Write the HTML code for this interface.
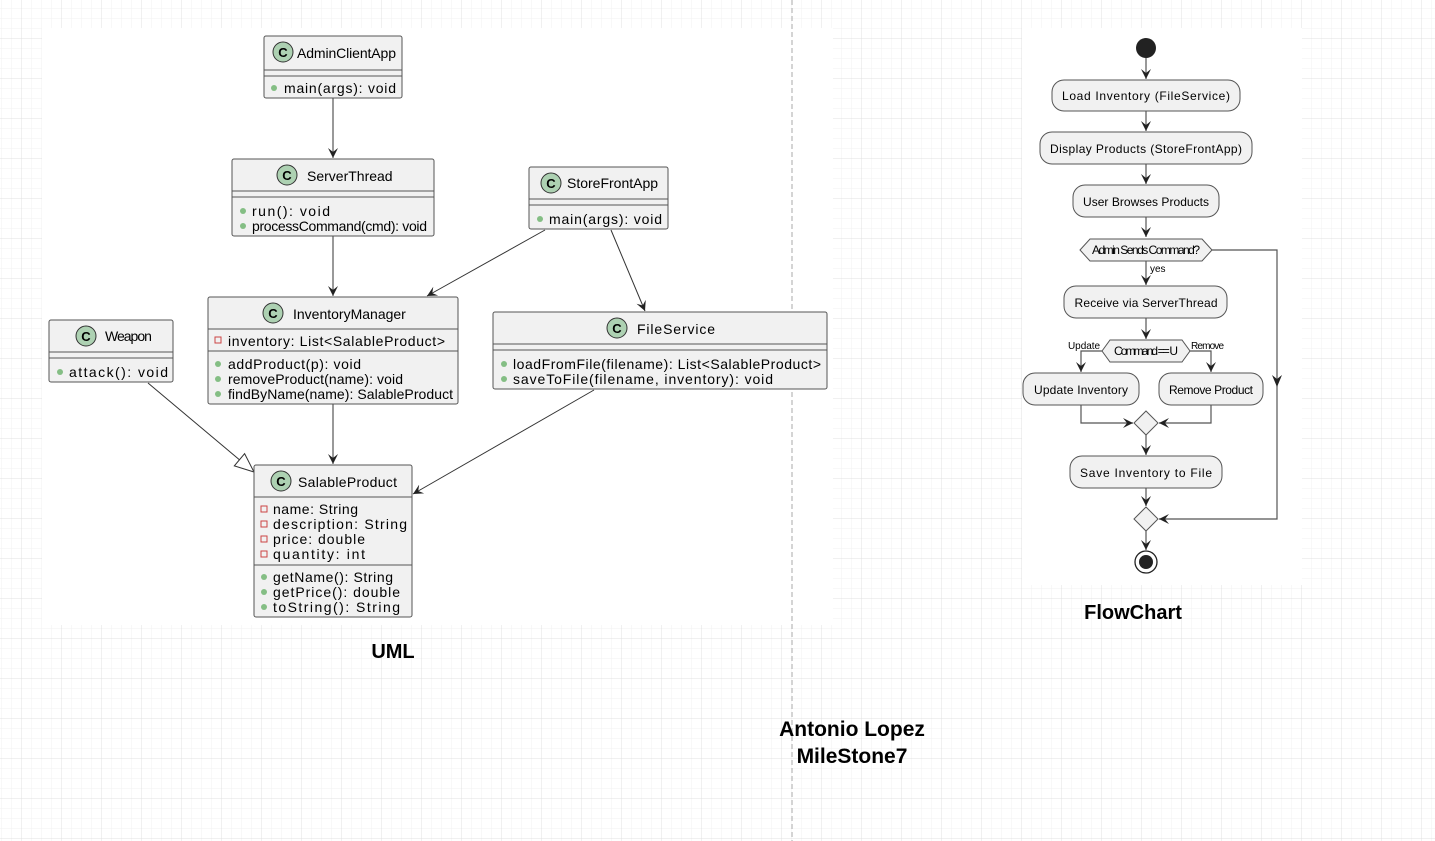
<!DOCTYPE html>
<html><head><meta charset="utf-8"><style>
html,body{margin:0;padding:0;background:#fff;}
svg{display:block;}
text{font-family:"Liberation Sans",Arial,sans-serif;fill:#000;}
.cb{fill:#f1f1f1;stroke:#555;stroke-width:1;}
.sep{stroke:#555;stroke-width:1;}
.cn{font-size:14px;}
.m{font-size:14px;}
.ln{stroke:#333;stroke-width:1;fill:none;}
.fl{stroke:#555;stroke-width:1.2;fill:none;}
.act{fill:#f1f1f1;stroke:#555;stroke-width:1;}
.ft{font-size:12px;text-anchor:middle;}
</style></head><body>
<svg width="1435" height="841" xmlns="http://www.w3.org/2000/svg">
<defs>
<pattern id="minor" width="10" height="10" patternUnits="userSpaceOnUse" x="2" y="-1">
<path d="M10 0V10M0 10H10" stroke="#f2f2f2" stroke-width="1" fill="none"/></pattern>
<pattern id="major" width="40" height="40" patternUnits="userSpaceOnUse" x="22" y="-1">
<path d="M40 0V40M0 40H40" stroke="#e0e0e0" stroke-width="1" fill="none"/></pattern>
<marker id="ar" markerWidth="12" markerHeight="12" refX="10" refY="6" orient="auto" markerUnits="userSpaceOnUse">
<path d="M0,1 L10,6 L0,11 L4,6 Z" fill="#222"/></marker>
<marker id="ov" markerWidth="12" markerHeight="12" refX="10" refY="6" orient="auto" markerUnits="userSpaceOnUse">
<path d="M0,1 L10,6 L0,11 L4,6 Z" fill="#222"/></marker>
<marker id="tri" markerWidth="22" markerHeight="20" refX="20" refY="10" orient="auto" markerUnits="userSpaceOnUse">
<path d="M1,2 L20,10 L1,18 Z" fill="#fff" stroke="#333" stroke-width="1"/></marker>
</defs>
<rect width="1435" height="841" fill="#fff"/>
<rect width="1435" height="841" fill="url(#minor)"/>
<rect width="1435" height="841" fill="url(#major)"/>
<rect x="42" y="28" width="791" height="597" fill="#fff"/>
<rect x="1022" y="28" width="280" height="557" fill="#fff"/>
<line x1="792" y1="0" x2="792" y2="841" stroke="#aaa" stroke-dasharray="5,3"/>

<!-- UML connectors -->
<line class="ln" x1="333" y1="98" x2="333" y2="158" stroke="#444" stroke-width="1.3" marker-end="url(#ov)"/>
<line class="ln" x1="333" y1="236" x2="333" y2="296" marker-end="url(#ov)"/>
<line class="ln" x1="545" y1="230" x2="427" y2="296" marker-end="url(#ov)"/>
<line class="ln" x1="611" y1="230" x2="645" y2="311" marker-end="url(#ov)"/>
<line class="ln" x1="333" y1="404" x2="333" y2="464" marker-end="url(#ov)"/>
<line class="ln" x1="594" y1="390" x2="413" y2="494" marker-end="url(#ov)"/>
<line class="ln" x1="148" y1="383" x2="254" y2="472" marker-end="url(#tri)"/>

<!-- AdminClientApp -->
<rect class="cb" x="264" y="36" width="138" height="62" rx="2"/>
<circle cx="283" cy="52" r="10" fill="#add1b2" stroke="#333"/><text x="283" y="57" font-size="13" font-weight="bold" text-anchor="middle">C</text>
<text class="cn" x="297" y="58" textLength="99">AdminClientApp</text>
<line class="sep" x1="264" y1="70" x2="402" y2="70"/><line class="sep" x1="264" y1="76" x2="402" y2="76"/>
<circle cx="274" cy="88" r="3" fill="#84be84"/><text class="m" x="284" y="93" textLength="112">main(args): void</text>

<!-- ServerThread -->
<rect class="cb" x="232" y="159" width="202" height="77" rx="2"/>
<circle cx="287" cy="175" r="10" fill="#add1b2" stroke="#333"/><text x="287" y="180" font-size="13" font-weight="bold" text-anchor="middle">C</text>
<text class="cn" x="307" y="181">ServerThread</text>
<line class="sep" x1="232" y1="191" x2="434" y2="191"/><line class="sep" x1="232" y1="197" x2="434" y2="197"/>
<circle cx="243" cy="211" r="3" fill="#84be84"/><text class="m" x="252" y="216" textLength="78">run(): void</text>
<circle cx="243" cy="226" r="3" fill="#84be84"/><text class="m" x="252" y="231" textLength="175">processCommand(cmd): void</text>

<!-- StoreFrontApp -->
<rect class="cb" x="529" y="167" width="139" height="62" rx="2"/>
<circle cx="551" cy="183" r="10" fill="#add1b2" stroke="#333"/><text x="551" y="188" font-size="13" font-weight="bold" text-anchor="middle">C</text>
<text class="cn" x="567" y="188">StoreFrontApp</text>
<line class="sep" x1="529" y1="199" x2="668" y2="199"/><line class="sep" x1="529" y1="205" x2="668" y2="205"/>
<circle cx="540" cy="219" r="3" fill="#84be84"/><text class="m" x="549" y="224" textLength="113">main(args): void</text>

<!-- InventoryManager -->
<rect class="cb" x="208" y="297" width="250" height="107" rx="2"/>
<circle cx="273" cy="313" r="10" fill="#add1b2" stroke="#333"/><text x="273" y="318" font-size="13" font-weight="bold" text-anchor="middle">C</text>
<text class="cn" x="293" y="319">InventoryManager</text>
<line class="sep" x1="208" y1="329" x2="458" y2="329"/>
<rect x="215" y="337" width="6" height="6" fill="none" stroke="#c44"/><text class="m" x="228" y="346" textLength="217">inventory: List&lt;SalableProduct&gt;</text>
<line class="sep" x1="208" y1="351" x2="458" y2="351"/>
<circle cx="218" cy="364" r="3" fill="#84be84"/><text class="m" x="228" y="369" textLength="133">addProduct(p): void</text>
<circle cx="218" cy="379" r="3" fill="#84be84"/><text class="m" x="228" y="384" textLength="175">removeProduct(name): void</text>
<circle cx="218" cy="394" r="3" fill="#84be84"/><text class="m" x="228" y="399" textLength="225">findByName(name): SalableProduct</text>

<!-- FileService -->
<rect class="cb" x="493" y="312" width="334" height="77" rx="2"/>
<circle cx="617" cy="328" r="10" fill="#add1b2" stroke="#333"/><text x="617" y="333" font-size="13" font-weight="bold" text-anchor="middle">C</text>
<text class="cn" x="637" y="334" textLength="78">FileService</text>
<line class="sep" x1="493" y1="344" x2="827" y2="344"/><line class="sep" x1="493" y1="350" x2="827" y2="350"/>
<circle cx="504" cy="364" r="3" fill="#84be84"/><text class="m" x="513" y="369" textLength="308">loadFromFile(filename): List&lt;SalableProduct&gt;</text>
<circle cx="504" cy="379" r="3" fill="#84be84"/><text class="m" x="513" y="384" textLength="260">saveToFile(filename, inventory): void</text>

<!-- Weapon -->
<rect class="cb" x="49" y="320" width="124" height="62" rx="2"/>
<circle cx="86" cy="336" r="10" fill="#add1b2" stroke="#333"/><text x="86" y="341" font-size="13" font-weight="bold" text-anchor="middle">C</text>
<text class="cn" x="105" y="341" letter-spacing="-1">Weapon</text>
<line class="sep" x1="49" y1="352" x2="173" y2="352"/><line class="sep" x1="49" y1="358" x2="173" y2="358"/>
<circle cx="60" cy="372" r="3" fill="#84be84"/><text class="m" x="69" y="377" textLength="99">attack(): void</text>

<!-- SalableProduct -->
<rect class="cb" x="254" y="465" width="158" height="152" rx="2"/>
<circle cx="281" cy="481" r="10" fill="#add1b2" stroke="#333"/><text x="281" y="486" font-size="13" font-weight="bold" text-anchor="middle">C</text>
<text class="cn" x="298" y="487" textLength="99">SalableProduct</text>
<line class="sep" x1="254" y1="497" x2="412" y2="497"/>
<rect x="261" y="506" width="6" height="6" fill="none" stroke="#c44"/><text class="m" x="273" y="514" textLength="85">name: String</text>
<rect x="261" y="521" width="6" height="6" fill="none" stroke="#c44"/><text class="m" x="273" y="529" textLength="134">description: String</text>
<rect x="261" y="536" width="6" height="6" fill="none" stroke="#c44"/><text class="m" x="273" y="544" textLength="92">price: double</text>
<rect x="261" y="551" width="6" height="6" fill="none" stroke="#c44"/><text class="m" x="273" y="559" textLength="92">quantity: int</text>
<line class="sep" x1="254" y1="565" x2="412" y2="565"/>
<circle cx="264" cy="577" r="3" fill="#84be84"/><text class="m" x="273" y="582" textLength="120">getName(): String</text>
<circle cx="264" cy="592" r="3" fill="#84be84"/><text class="m" x="273" y="597" textLength="127">getPrice(): double</text>
<circle cx="264" cy="607" r="3" fill="#84be84"/><text class="m" x="273" y="612" textLength="127">toString(): String</text>

<text x="393" y="658" font-size="20" font-weight="bold" text-anchor="middle">UML</text>

<!-- Flowchart -->
<circle cx="1146" cy="48" r="10" fill="#222"/>
<line class="fl" x1="1146" y1="58" x2="1146" y2="79" marker-end="url(#ar)"/>
<rect class="act" x="1052" y="80" width="188" height="31" rx="12"/>
<text class="ft" x="1146" y="100" textLength="168">Load Inventory (FileService)</text>
<line class="fl" x1="1146" y1="111" x2="1146" y2="131" marker-end="url(#ar)"/>
<rect class="act" x="1040" y="132" width="212" height="32" rx="12"/>
<text class="ft" x="1146" y="153" textLength="192">Display Products (StoreFrontApp)</text>
<line class="fl" x1="1146" y1="164" x2="1146" y2="184" marker-end="url(#ar)"/>
<rect class="act" x="1073" y="185" width="146" height="32" rx="12"/>
<text class="ft" x="1146" y="206" textLength="126">User Browses Products</text>
<line class="fl" x1="1146" y1="217" x2="1146" y2="237" marker-end="url(#ar)"/>
<polygon class="act" points="1080,250 1090,239 1202,239 1212,250 1202,261 1090,261"/>
<text class="ft" x="1146" y="254" font-size="10" textLength="108">Admin Sends Command?</text>
<text x="1150" y="272" font-size="10">yes</text>
<line class="fl" x1="1146" y1="261" x2="1146" y2="285" marker-end="url(#ar)"/>
<rect class="act" x="1064" y="286" width="163" height="32" rx="12"/>
<text class="ft" x="1146" y="307" textLength="143">Receive via ServerThread</text>
<line class="fl" x1="1146" y1="318" x2="1146" y2="339" marker-end="url(#ar)"/>
<polygon class="act" points="1102,351 1110,340 1182,340 1190,351 1182,362 1110,362"/>
<text class="ft" x="1146" y="355" font-size="10" textLength="64">Command == U</text>
<text x="1068" y="349" font-size="10" textLength="32">Update</text>
<text x="1191" y="349" font-size="10" textLength="33">Remove</text>
<polyline class="fl" points="1102,351 1081,351 1081,372" marker-end="url(#ar)"/>
<polyline class="fl" points="1190,351 1211,351 1211,372" marker-end="url(#ar)"/>
<rect class="act" x="1023" y="373" width="116" height="32" rx="12"/>
<text class="ft" x="1081" y="394" textLength="94">Update Inventory</text>
<rect class="act" x="1159" y="373" width="104" height="32" rx="12"/>
<text class="ft" x="1211" y="394" textLength="84">Remove Product</text>
<polyline class="fl" points="1081,405 1081,423 1133,423" marker-end="url(#ar)"/>
<polyline class="fl" points="1211,405 1211,423 1159,423" marker-end="url(#ar)"/>
<polygon class="act" points="1146,411 1158,423 1146,435 1134,423"/>
<line class="fl" x1="1146" y1="435" x2="1146" y2="455" marker-end="url(#ar)"/>
<rect class="act" x="1070" y="456" width="152" height="32" rx="12"/>
<text class="ft" x="1146" y="477" textLength="132">Save Inventory to File</text>
<line class="fl" x1="1146" y1="488" x2="1146" y2="506" marker-end="url(#ar)"/>
<polygon class="act" points="1146,507 1158,519 1146,531 1134,519"/>
<polyline class="fl" points="1212,250 1277,250 1277,519 1159,519" marker-end="url(#ar)"/>
<path d="M1272,375 L1277,387 L1282,375 L1277,379 Z" fill="#222"/>
<line class="fl" x1="1146" y1="531" x2="1146" y2="550" marker-end="url(#ar)"/>
<circle cx="1146" cy="562" r="11" fill="#fff" stroke="#222" stroke-width="1.3"/>
<circle cx="1146" cy="562" r="7" fill="#222"/>

<text x="1133" y="619" font-size="20" font-weight="bold" text-anchor="middle">FlowChart</text>
<text x="852" y="736" font-size="21" font-weight="bold" text-anchor="middle">Antonio Lopez</text>
<text x="852" y="763" font-size="21" font-weight="bold" text-anchor="middle">MileStone7</text>
</svg>
</body></html>
